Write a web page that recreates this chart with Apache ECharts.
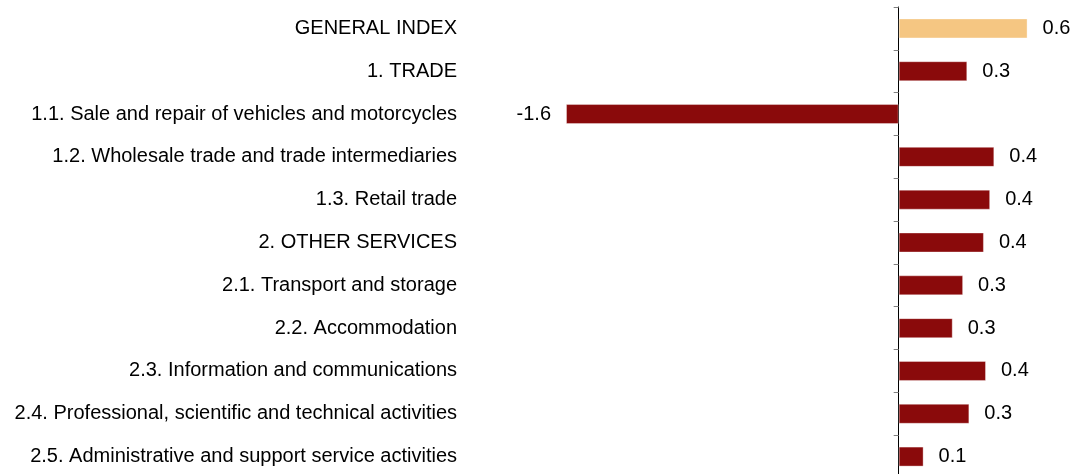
<!DOCTYPE html>
<html>
<head>
<meta charset="utf-8">
<script src="https://cdn.jsdelivr.net/npm/echarts@6/dist/echarts.min.js"></script>
<style>
  html, body { margin: 0; padding: 0; background: #fff; }
  #main { width: 1075px; height: 474px; }
</style>
</head>
<body>
<div id="main"></div>
<script>
var categories = [
    'GENERAL INDEX',
    '1. TRADE',
    '1.1. Sale and repair of vehicles and motorcycles',
    '1.2. Wholesale trade and trade intermediaries',
    '1.3. Retail trade',
    '2. OTHER SERVICES',
    '2.1. Transport and storage',
    '2.2. Accommodation',
    '2.3. Information and communications',
    '2.4. Professional, scientific and technical activities',
    '2.5. Administrative and support service activities'
];
// bar lengths as drawn
var barValues = [0.62, 0.33, -1.6, 0.46, 0.44, 0.41, 0.31, 0.26, 0.42, 0.34, 0.12];
// value labels as printed next to bars
var valueLabels = ['0.6', '0.3', '-1.6', '0.4', '0.4', '0.4', '0.3', '0.3', '0.4', '0.3', '0.1'];

var myChart = echarts.init(document.getElementById('main'));

var seriesData = barValues.map(function (v, i) {
    return {
        value: v,
        itemStyle: { color: i === 0 ? '#F5C682' : '#8A0A0B' },
        label: { position: v < 0 ? 'left' : 'right' }
    };
});

var option = {
    animation: false,
    grid: { left: 566, right: 10, top: 7, height: 471, containLabel: false, outerBoundsMode: 'none' },
    xAxis: {
        type: 'value',
        min: -1.6,
        max: 0.8,
        show: false
    },
    yAxis: {
        type: 'category',
        inverse: true,
        data: categories,
        axisLine: { show: true, lineStyle: { color: '#000', width: 1 } },
        axisTick: { show: true, length: 5, lineStyle: { color: '#808080' } },
        axisLabel: {
            margin: 109,
            color: '#000',
            fontFamily: 'Liberation Sans, Arial, sans-serif',
            fontSize: 20
        },
        splitLine: { show: false }
    },
    series: [{
        type: 'bar',
        barWidth: 20,
        data: seriesData,
        itemStyle: { borderColor: 'rgba(255,255,255,0.35)', borderWidth: 1 },
        label: {
            show: true,
            distance: 15,
            color: '#000',
            fontFamily: 'Liberation Sans, Arial, sans-serif',
            fontSize: 20,
            formatter: function (p) { return valueLabels[p.dataIndex]; }
        }
    }]
};
myChart.setOption(option);
</script>
</body>
</html>
